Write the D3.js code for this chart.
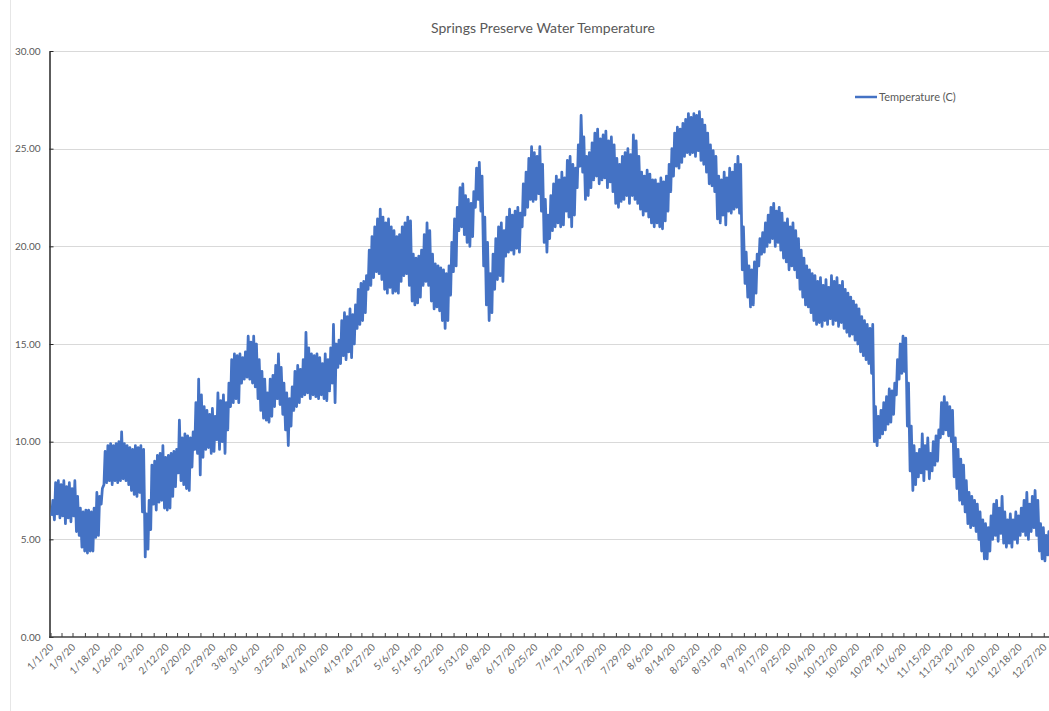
<!DOCTYPE html>
<html>
<head>
<meta charset="utf-8">
<script src="https://cdn.jsdelivr.net/npm/d3@7"></script>
<style>
  body { margin: 0; background: #fff; }
  svg { display: block; font-family: Lato, "Open Sans", sans-serif; }
</style>
</head>
<body>
<script>
const w = 1049;
const h = 711;
const margin = { top: 51, right: 0, bottom: 74, left: 51 };
const plotRight = 1058; // plot area runs a little past the visible edge

const title = "Springs Preserve Water Temperature";
const seriesName = "Temperature (C)";

const yTicks = [0, 5, 10, 15, 20, 25, 30];

const tickLabels = ["1/1/20", "1/9/20", "1/18/20", "1/26/20", "2/3/20", "2/12/20", "2/20/20", "2/29/20",
  "3/8/20", "3/16/20", "3/25/20", "4/2/20", "4/10/20", "4/19/20", "4/27/20", "5/6/20", "5/14/20",
  "5/22/20", "5/31/20", "6/8/20", "6/17/20", "6/25/20", "7/4/20", "7/12/20", "7/20/20", "7/29/20",
  "8/6/20", "8/14/20", "8/23/20", "8/31/20", "9/9/20", "9/17/20", "9/25/20", "10/4/20", "10/12/20",
  "10/20/20", "10/29/20", "11/6/20", "11/15/20", "11/23/20", "12/1/20", "12/10/20", "12/18/20", "12/27/20"];

// daily low / high water temperature, one value per day from 1/1/20
const dailyLow = [
  6.2, 6.0, 6.3, 6.1, 6.2, 5.8, 6.1, 5.9, 6.2, 5.4,
  5.2, 4.6, 4.4, 4.3, 4.4, 4.4, 5.1, 5.2, 6.8, 7.8,
  7.9, 8.0, 7.8, 8.0, 7.9, 8.0, 8.1, 8.0, 7.8, 7.5,
  7.3, 7.2, 7.4, 6.4, 4.1, 4.5, 5.5, 6.8, 6.5, 6.9,
  7.0, 6.6, 6.5, 6.6, 7.2, 7.7, 8.4, 8.0, 7.8, 7.6,
  7.5, 8.7, 9.6, 9.4, 8.3, 9.2, 9.6, 9.7, 9.4, 9.5,
  10.1, 9.6, 10.0, 9.4, 10.6, 11.8, 12.0, 12.2, 12.0, 13.0,
  13.2, 13.3, 13.2, 13.0, 12.8, 12.2, 11.6, 11.2, 11.1, 11.0,
  11.3, 11.8, 12.2, 11.9, 11.4, 10.6, 9.8, 10.8, 11.6, 11.8,
  12.0, 12.3, 12.4, 12.5, 12.2, 12.4, 12.3, 12.2, 12.4, 12.2,
  12.1, 12.6, 13.0, 12.0, 13.8, 14.0, 14.4, 14.2, 14.6, 14.3,
  15.0, 15.8, 16.0, 16.2, 16.6, 17.8, 18.0, 18.4, 18.7, 18.6,
  18.3, 17.8, 17.6, 17.9, 17.6, 17.7, 17.6, 18.2, 18.5, 18.6,
  18.0, 17.2, 17.0, 17.1, 17.4, 18.0, 18.2, 18.0, 17.2, 16.8,
  16.9, 16.7, 16.2, 15.8, 16.2, 17.5, 18.7, 19.0, 20.8, 21.0,
  20.6, 20.2, 20.0, 20.5, 22.0, 22.4, 21.8, 19.0, 17.0, 16.2,
  16.6, 17.8, 18.3, 18.5, 18.2, 19.5, 19.7, 19.8, 19.6, 19.9,
  19.7, 21.0, 21.6, 22.0, 22.4, 22.3, 22.4, 22.7, 21.8, 20.2,
  19.7, 20.4, 20.8, 21.0, 21.2, 21.0, 21.1, 21.8, 21.5, 21.0,
  21.6, 23.0, 24.1, 23.8, 22.4, 22.6, 23.0, 23.4, 23.6, 23.2,
  23.4, 23.5, 23.0, 23.3, 22.8, 22.2, 22.0, 22.3, 22.4, 22.6,
  22.2, 22.6, 22.4, 22.2, 21.9, 21.6, 21.8, 21.5, 21.2, 21.0,
  21.2, 21.0, 20.9, 21.3, 21.8, 22.8, 23.6, 24.1, 24.0, 24.3,
  24.6, 24.8, 24.7, 24.8, 24.6, 24.9, 24.4, 24.2, 23.8, 23.2,
  23.1, 22.8, 21.4, 21.2, 21.6, 21.1, 21.8, 21.7, 21.9, 22.0,
  21.7, 18.8, 18.1, 17.4, 16.9, 17.0, 17.6, 19.0, 19.6, 19.7,
  20.0, 20.2, 20.4, 20.0, 20.2, 19.8, 19.4, 19.2, 18.8, 19.0,
  18.8, 18.4, 17.8, 17.4, 17.0, 16.9, 16.6, 16.2, 16.0, 16.1,
  15.9, 16.2, 16.0, 16.3, 16.0, 16.2, 15.9, 16.1, 15.8, 15.6,
  15.4, 15.5, 15.2, 15.0, 14.6, 14.4, 14.2, 14.0, 13.5, 10.0,
  9.8, 10.2, 10.4, 10.6, 10.9, 11.0, 11.4, 12.4, 13.2, 13.5,
  13.6, 10.8, 8.5, 7.5, 7.8, 8.2, 8.4, 8.0, 8.6, 8.1,
  8.5, 8.8, 9.0, 10.2, 10.4, 10.6, 10.3, 10.0, 8.2, 7.6,
  7.0, 6.8, 6.4, 5.8, 5.6, 5.7, 5.4, 5.0, 4.4, 4.0,
  4.0, 4.4, 5.0, 5.2, 4.9, 5.3, 4.8, 4.6, 4.8, 4.6,
  5.0, 4.8, 5.2, 5.4, 5.2, 5.0, 5.4, 5.6, 5.2, 4.4,
  4.0, 3.9, 4.2, 4.6, 4.8, 4.9
];

const dailyHigh = [
  7.0, 7.9, 8.0, 7.8, 8.0, 7.7, 7.9, 7.6, 8.0, 7.2,
  6.6, 6.4, 6.5, 6.5, 6.4, 6.6, 7.4, 7.2, 7.6, 9.5,
  9.8, 9.9, 9.8, 9.9, 10.0, 10.5, 9.9, 9.8, 9.7, 9.6,
  9.8, 9.7, 9.8, 9.6, 6.3, 7.0, 8.8, 9.0, 9.3, 9.4,
  9.8, 9.2, 9.3, 9.4, 9.5, 9.6, 11.1, 10.2, 10.4, 10.3,
  10.2, 10.5, 12.0, 13.2, 12.4, 11.8, 11.6, 11.4, 11.7, 11.3,
  12.5, 12.1, 12.4, 12.0, 13.0, 14.2, 14.5, 14.4, 14.5, 14.3,
  14.6, 15.4, 15.1, 15.4, 15.0, 14.2, 13.6, 13.2, 12.5, 13.2,
  13.4, 13.9, 14.5, 13.8, 13.0, 12.5, 12.2, 12.8, 13.6, 13.9,
  13.7, 14.2, 15.6, 14.8, 14.5, 14.4, 14.5, 14.3, 14.0, 14.5,
  14.2, 14.8, 16.0, 15.0, 15.2, 16.2, 16.6, 16.4, 16.8, 16.5,
  17.0, 17.8, 18.1, 18.2, 18.5, 19.8, 20.5, 21.0, 21.4, 21.9,
  21.5, 21.2, 21.4, 21.0, 20.8, 20.5, 20.6, 21.0, 21.2, 21.5,
  21.3, 19.6, 19.4, 19.5, 19.8, 20.6, 21.2, 20.8, 19.6, 19.1,
  19.0, 18.9, 18.8, 18.6, 19.0, 20.2, 21.4, 22.0, 23.0, 23.2,
  22.6, 22.4, 22.2, 22.8, 24.0, 24.3, 23.6, 21.5, 20.2, 18.6,
  19.6, 20.4, 21.0, 21.2, 20.8, 21.5, 21.9, 21.6, 21.8, 22.0,
  21.7, 23.2, 23.8, 24.5, 25.1, 24.8, 24.6, 25.1, 24.2, 22.4,
  21.6, 22.6, 23.2, 23.6, 23.4, 23.8, 23.5, 24.4, 24.6, 24.2,
  24.0, 25.2, 26.7, 25.6, 24.6, 24.8, 25.3, 25.8, 26.0, 25.5,
  25.7, 25.9, 25.4, 25.6, 25.2, 24.5, 24.2, 24.6, 24.8, 25.0,
  24.7, 25.7, 25.4, 24.6, 23.8, 23.6, 23.9, 23.7, 23.4, 23.4,
  23.2, 23.5, 23.3, 23.6, 24.2, 25.0, 25.8, 26.1, 26.0, 26.3,
  26.5, 26.8, 26.6, 26.8, 26.7, 26.9, 26.5, 26.2, 25.8, 25.2,
  24.9, 24.6, 23.6, 23.4, 23.8, 23.5, 24.0, 23.8, 24.2, 24.6,
  24.2, 21.0, 19.7, 19.0, 18.8, 19.2, 19.6, 20.4, 20.7, 21.2,
  21.6, 22.0, 22.2, 21.8, 22.0, 21.7, 21.2, 21.4, 21.0, 21.2,
  20.8, 20.4, 19.8, 19.4, 19.0, 18.8, 18.6, 18.5, 18.2, 18.4,
  18.0, 18.3, 17.9, 18.5, 18.2, 18.4, 18.0, 18.2, 17.8, 17.6,
  17.4, 17.2, 17.0, 16.8, 16.4, 16.2, 16.0, 15.8, 16.0, 11.8,
  11.3, 11.6, 12.0, 12.3, 12.7, 12.6, 13.0, 14.2, 15.0, 15.4,
  15.3, 13.0, 10.8, 9.8, 9.4, 9.6, 10.4, 9.8, 10.2, 9.4,
  10.0, 10.3, 10.6, 12.0, 12.3, 12.0, 11.8, 11.6, 10.2, 9.6,
  9.1, 8.8, 8.0, 7.4, 7.2, 7.0, 6.8, 6.4, 6.0, 5.8,
  5.6, 6.2, 6.8, 7.0, 6.6, 7.2, 6.4, 6.0, 6.3, 6.0,
  6.4, 6.2, 6.6, 7.0, 7.4, 6.8, 7.2, 7.5, 7.0, 5.8,
  5.6, 5.2, 5.4, 5.6, 5.8, 5.6
];

const parseDate = d3.timeParse("%-m/%-d/%y");
const labelDates = tickLabels.map(parseDate);

// two readings a day: early-morning low, afternoon high
const points = [];
dailyLow.forEach((lo, i) => {
  points.push({ t: new Date(2020, 0, 1 + i, 6), v: lo });
  points.push({ t: new Date(2020, 0, 1 + i, 16), v: dailyHigh[i] });
});

const x = d3.scaleTime()
  .domain([new Date(2020, 0, 1), new Date(2021, 0, 1)])
  .range([margin.left, plotRight]);

const y = d3.scaleLinear()
  .domain([0, 30])
  .range([h - margin.bottom, margin.top]);

const svg = d3.select("body").append("svg").attr("width", w).attr("height", h);

svg.append("rect").attr("width", w).attr("height", h).attr("fill", "#fff");

// chart-area border (only the left edge is visible)
svg.append("line")
  .attr("x1", 10.5).attr("x2", 10.5)
  .attr("y1", 0).attr("y2", h)
  .attr("stroke", "#e6e6e6");

svg.append("text")
  .attr("x", 543).attr("y", 33)
  .attr("text-anchor", "middle")
  .attr("font-size", 14)
  .attr("fill", "#595959")
  .text(title);

// gridlines
svg.append("g").selectAll("line").data(yTicks.filter(d => d > 0)).enter().append("line")
  .attr("x1", margin.left).attr("x2", w)
  .attr("y1", d => Math.round(y(d)) + 0.5).attr("y2", d => Math.round(y(d)) + 0.5)
  .attr("stroke", "#d9d9d9").attr("stroke-width", 1.2);

// y axis
const yAxis = svg.append("g")
  .attr("transform", `translate(${margin.left - 1.5},0)`)
  .call(d3.axisLeft(y).tickValues(yTicks).tickFormat(d3.format(".2f")).tickSize(0).tickPadding(9));
yAxis.select(".domain").attr("stroke", "#262626").attr("stroke-width", 1.5);
yAxis.selectAll("text").attr("font-size", 10).attr("fill", "#595959").attr("font-family", "Lato, sans-serif");
yAxis.selectAll(".tick").append("line").attr("x1", 0).attr("x2", 4).attr("stroke", "#262626");

// x axis: labelled ticks plus a minor tick halfway between them
const minorDates = labelDates.map((d, i) => {
  const next = labelDates[i + 1] || d3.timeDay.offset(d, 8.4);
  return new Date((+d + +next) / 2);
});
const allTicks = labelDates.concat(minorDates);

const xAxisG = svg.append("g").attr("transform", `translate(0,${y(0)})`);
xAxisG.append("line")
  .attr("x1", margin.left - 2).attr("x2", w)
  .attr("stroke", "#404040").attr("stroke-width", 1.5);
xAxisG.selectAll("line.tick").data(allTicks).enter().append("line")
  .attr("class", "tick")
  .attr("x1", d => x(d)).attr("x2", d => x(d))
  .attr("y1", -4).attr("y2", 0)
  .attr("stroke", "#404040");
xAxisG.selectAll("text").data(tickLabels).enter().append("text")
  .attr("transform", (d, i) => `translate(${x(labelDates[i]) + 3},11) rotate(-45)`)
  .attr("text-anchor", "end")
  .attr("font-size", 10)
  .attr("fill", "#666")
  .text(d => d);

// temperature line
const line = d3.line().x(d => x(d.t)).y(d => y(d.v));
svg.append("path")
  .datum(points)
  .attr("d", line)
  .attr("fill", "none")
  .attr("stroke", "#4472C4")
  .attr("stroke-width", 2.75)
  .attr("stroke-linejoin", "round");

// legend
const legend = svg.append("g").attr("transform", "translate(855,97)");
legend.append("line").attr("x1", 0).attr("x2", 22).attr("stroke", "#4472C4").attr("stroke-width", 2.5);
legend.append("text").attr("x", 24).attr("y", 4).attr("font-size", 11).attr("fill", "#595959").text(seriesName);
</script>
</body>
</html>
